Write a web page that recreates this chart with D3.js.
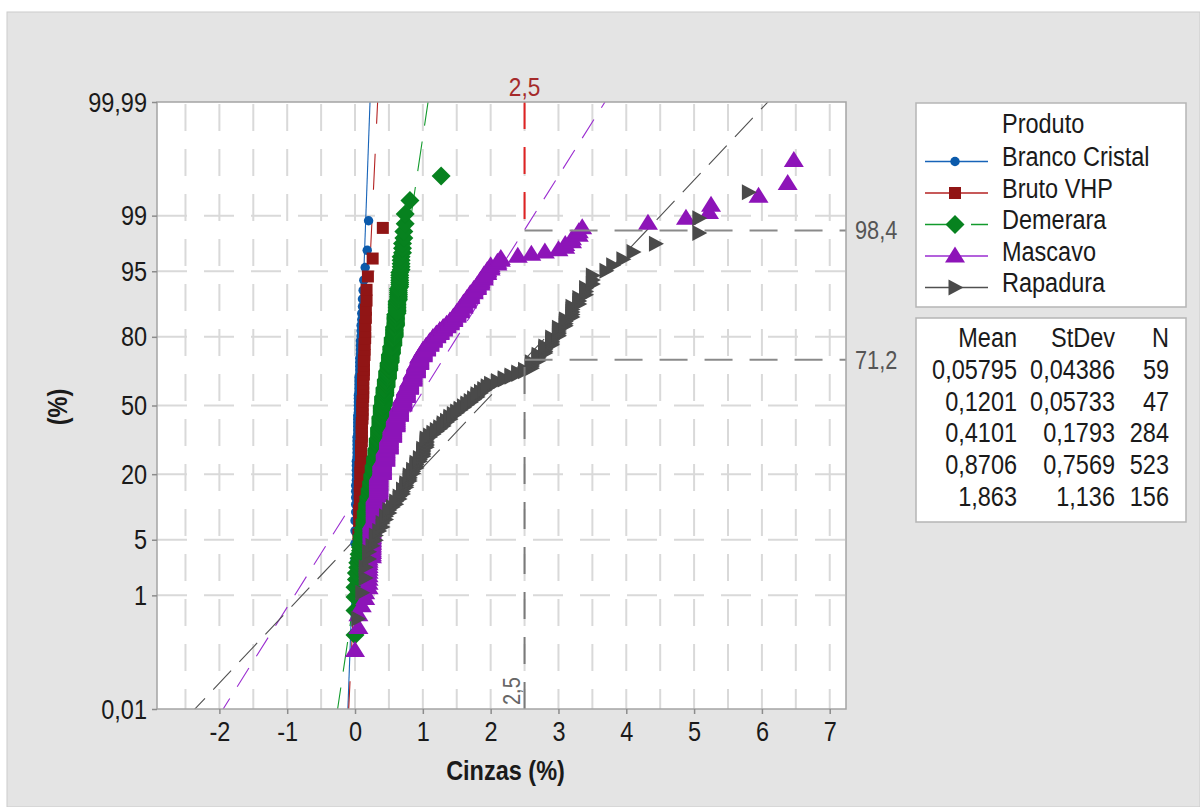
<!DOCTYPE html>
<html>
<head>
<meta charset="utf-8">
<script src="https://cdn.jsdelivr.net/npm/d3@7"></script>
<style>
  body { margin: 0; background: #fff; }
  text { font-family: "Liberation Sans", Arial, sans-serif; }
</style>
</head>
<body>
<div id="chart"></div>
<script>
"use strict";

// tick labels
var percentTicks = [0.01, 1, 5, 20, 50, 80, 95, 99, 99.99];
var percentLabels = ["0,01", "1", "5", "20", "50", "80", "95", "99", "99,99"];
var xTicks = [-2, -1, 0, 1, 2, 3, 4, 5, 6, 7];

// groups and summary table
var produtos = ["Branco Cristal", "Bruto VHP", "Demerara", "Mascavo", "Rapadura"];
var means = [0.05795, 0.1201, 0.4101, 0.8706, 1.863];
var stdevs = [0.04386, 0.05733, 0.1793, 0.7569, 1.136];
var counts = [59, 47, 284, 523, 156];
var meanLabels = ["0,05795", "0,1201", "0,4101", "0,8706", "1,863"];
var stdevLabels = ["0,04386", "0,05733", "0,1793", "0,7569", "1,136"];

// reference lines (Cinzas = 2,5)
var refX = 2.5;
var refPercents = [98.4, 71.2];
var refLabels = ["98,4", "71,2"];

var brancoVal = [0, 0.01, 0.02, 0.03, 0.04, 0.05, 0.06, 0.07, 0.08, 0.09, 0.10, 0.11, 0.12, 0.13, 0.15, 0.18, 0.20];
var brancoCnt = [5, 5, 5, 6, 6, 6, 5, 5, 4, 3, 2, 2, 1, 1, 1, 1, 1];

var brutoVal = [0.03, 0.05, 0.06, 0.07, 0.08, 0.09, 0.10, 0.11, 0.12, 0.13, 0.14, 0.15, 0.16, 0.17, 0.19, 0.26, 0.41];
var brutoCnt = [1, 2, 2, 3, 3, 4, 5, 5, 5, 4, 3, 3, 2, 2, 1, 1, 1];

var demeraraVal = [0.00, 0.02, 0.04, 0.06, 0.08, 0.10, 0.12, 0.14, 0.16, 0.18, 0.20, 0.22, 0.24, 0.26, 0.28,
  0.30, 0.32, 0.34, 0.36, 0.38, 0.40, 0.42, 0.44, 0.46, 0.48, 0.50, 0.52, 0.54, 0.56, 0.58, 0.60, 0.62,
  0.64, 0.66, 0.68, 0.70, 0.72, 0.74, 0.81, 1.27];
var demeraraCnt = [4, 2, 2, 2, 3, 3, 3, 4, 5, 5, 5, 6, 6, 7, 9, 9, 10, 13, 14, 15, 15, 13, 12, 11, 11, 10,
  10, 9, 9, 10, 10, 9, 7, 7, 5, 3, 2, 2, 1, 1];

var mascavoVal = [0.00, 0.05, 0.10, 0.15, 0.20, 0.25, 0.30, 0.35, 0.40, 0.45, 0.50, 0.55, 0.60, 0.65, 0.70,
  0.75, 0.80, 0.85, 0.90, 0.95, 1.00, 1.05, 1.10, 1.15, 1.20, 1.25, 1.30, 1.35, 1.40, 1.45, 1.50, 1.55,
  1.60, 1.65, 1.70, 1.75, 1.80, 1.85, 1.90, 1.95, 2.00, 2.10, 2.15, 2.40, 2.60, 2.80, 3.00, 3.10, 3.20,
  3.30, 3.35, 4.32, 4.88, 5.22, 5.25, 5.95, 6.38, 6.47];
var mascavoCnt = [1, 2, 1, 2, 10, 24, 30, 35, 26, 26, 27, 26, 26, 26, 22, 21, 20, 20, 19, 17, 12, 9, 8, 8,
  6, 6, 5, 5, 5, 6, 6, 6, 6, 5, 5, 4, 4, 4, 4, 3, 3, 2, 2, 1, 1, 1, 1, 2, 2, 2, 1, 1, 1, 1, 1, 1, 1, 1];

var rapaduraVal = [0.04, 0.10, 0.15, 0.20, 0.25, 0.30, 0.35, 0.40, 0.45, 0.50, 0.55, 0.60, 0.65, 0.70, 0.75,
  0.80, 0.85, 0.90, 0.95, 1.00, 1.05, 1.10, 1.15, 1.20, 1.25, 1.30, 1.35, 1.40, 1.45, 1.50, 1.55, 1.60,
  1.65, 1.70, 1.75, 1.80, 1.85, 1.90, 1.95, 2.00, 2.10, 2.20, 2.30, 2.40, 2.50, 2.60, 2.70, 2.80, 2.90,
  3.00, 3.10, 3.20, 3.30, 3.40, 3.50, 3.70, 3.80, 3.95, 4.10, 4.43, 5.07, 5.80];
var rapaduraCnt = [1, 1, 2, 2, 1, 2, 1, 2, 2, 2, 1, 2, 2, 3, 3, 4, 3, 4, 3, 6, 7, 2, 2, 2, 2, 3, 2, 3, 2,
  2, 2, 2, 2, 2, 2, 3, 2, 2, 2, 2, 2, 2, 2, 2, 2, 5, 5, 5, 5, 5, 4, 5, 3, 3, 3, 1, 1, 1, 1, 1, 2, 1];

var seriesVal = [brancoVal, brutoVal, demeraraVal, mascavoVal, rapaduraVal];
var seriesCnt = [brancoCnt, brutoCnt, demeraraCnt, mascavoCnt, rapaduraCnt];

// look
var markColors = ["#0b5aab", "#911515", "#07821f", "#8d14b8", "#4a4a4a"];
var lineColors = ["#1763b8", "#b42222", "#129a2c", "#9a2cd0", "#505050"];
var lineDash = [null, null, "30,16", null, null];
var fitDash = [null, "36,30", "30,16", "22,14", "26,12"];
var SX = 0.87;

// inverse of the standard normal cdf (Acklam)
function qnorm(p) {
  var a = [-3.969683028665376e+01, 2.209460984245205e+02, -2.759285104469687e+02,
           1.383577518672690e+02, -3.066479806614716e+01, 2.506628277459239e+00];
  var b = [-5.447609879822406e+01, 1.615858368580409e+02, -1.556989798598866e+02,
           6.680131188771972e+01, -1.328068155288572e+01];
  var c = [-7.784894002430293e-03, -3.223964580411365e-01, -2.400758277161838e+00,
           -2.549732539343734e+00, 4.374664141464968e+00, 2.938163982698783e+00];
  var d = [7.784695709041462e-03, 3.224671290700398e-01, 2.445134137142996e+00,
           3.754408661907416e+00];
  var q, r;
  if (p < 0.02425) {
    q = Math.sqrt(-2 * Math.log(p));
    return (((((c[0]*q+c[1])*q+c[2])*q+c[3])*q+c[4])*q+c[5]) / ((((d[0]*q+d[1])*q+d[2])*q+d[3])*q+1);
  }
  if (p > 1 - 0.02425) {
    q = Math.sqrt(-2 * Math.log(1 - p));
    return -(((((c[0]*q+c[1])*q+c[2])*q+c[3])*q+c[4])*q+c[5]) / ((((d[0]*q+d[1])*q+d[2])*q+d[3])*q+1);
  }
  q = p - 0.5; r = q * q;
  return (((((a[0]*r+a[1])*r+a[2])*r+a[3])*r+a[4])*r+a[5])*q / (((((b[0]*r+b[1])*r+b[2])*r+b[3])*r+b[4])*r+1);
}

// marker shapes
function shapePath(k) {
  switch (k) {
    case 0: return d3.symbol(d3.symbolCircle, 70)();
    case 1: return "M-6,-6H6V6H-6Z";
    case 2: return "M0,-9.5L9.5,0L0,9.5L-9.5,0Z";
    case 3: return "M0,-9.5L10,6.5L-10,6.5Z";
    default: return "M-6.5,-8L8.5,0L-6.5,8Z";
  }
}

var svg = d3.select("#chart").append("svg")
    .attr("width", 1200)
    .attr("height", 807);

svg.append("rect")
    .attr("x", 7).attr("y", 12).attr("width", 1193).attr("height", 795)
    .attr("fill", "#e4e4e4").attr("stroke", "#cbcbcb");

var pL = 157, pR = 846, pT = 102, pB = 709;

var x = d3.scaleLinear().domain([-2.92, 7.24]).range([pL, pR]);
var y = d3.scaleLinear().domain([qnorm(0.0001), qnorm(0.9999)]).range([pB, pT]);
function yp(pct) { return y(qnorm(pct / 100)); }

function label(g, px, py, s, anchor, size, color, weight, rot) {
  return g.append("text")
      .attr("transform", "translate(" + px + "," + py + ")" + (rot ? " rotate(" + rot + ")" : "") + " scale(" + SX + ",1)")
      .attr("text-anchor", anchor)
      .attr("font-size", size)
      .attr("font-weight", weight || "normal")
      .attr("fill", color || "#1a1a1a")
      .text(s);
}

// plot area
svg.append("rect")
    .attr("x", pL).attr("y", pT).attr("width", pR - pL).attr("height", pB - pT)
    .attr("fill", "#fff");

svg.append("clipPath").attr("id", "plotClip")
  .append("rect")
    .attr("x", pL).attr("y", pT).attr("width", pR - pL).attr("height", pB - pT);

// grid
var grid = svg.append("g").attr("stroke", "#d9d9d9").attr("stroke-width", 2);
d3.range(-2.5, 7.01, 0.5).forEach(function(v) {
  grid.append("line")
      .attr("x1", x(v)).attr("x2", x(v)).attr("y1", pT + 2).attr("y2", pB)
      .attr("stroke-dasharray", "27,18");
});
percentTicks.slice(1, -1).forEach(function(p) {
  grid.append("line")
      .attr("x1", pL).attr("x2", pR).attr("y1", yp(p)).attr("y2", yp(p))
      .attr("stroke-dasharray", "30,17");
});

var plot = svg.append("g").attr("clip-path", "url(#plotClip)");

// fitted normal lines
var zLo = qnorm(0.0001) - 0.1, zHi = qnorm(0.9999) + 0.1;
produtos.forEach(function(name, i) {
  plot.append("line")
      .attr("x1", x(means[i] + stdevs[i] * zLo)).attr("y1", y(zLo))
      .attr("x2", x(means[i] + stdevs[i] * zHi)).attr("y2", y(zHi))
      .attr("stroke", lineColors[i])
      .attr("stroke-width", 1.1)
      .attr("stroke-dasharray", fitDash[i]);
});

// points at median ranks
produtos.forEach(function(name, i) {
  var sorted = [];
  seriesVal[i].forEach(function(v, j) {
    for (var k = 0; k < seriesCnt[i][j]; k++) sorted.push(v);
  });
  var n = sorted.length;
  var pts = sorted.map(function(v, j) {
    return { v: v, z: qnorm((j + 1 - 0.3) / (n + 0.4)) };
  });
  plot.append("g").selectAll("path")
      .data(pts)
    .enter().append("path")
      .attr("d", shapePath(i))
      .attr("transform", function(d) { return "translate(" + x(d.v) + "," + y(d.z) + ")"; })
      .attr("fill", markColors[i]);
});

// reference lines
var ref = svg.append("g").attr("fill", "none");
ref.append("line")
    .attr("x1", x(refX)).attr("x2", x(refX)).attr("y1", pT).attr("y2", yp(refPercents[0]))
    .attr("stroke", "#e02222").attr("stroke-width", 2).attr("stroke-dasharray", "27,18");
ref.append("line")
    .attr("x1", x(refX)).attr("x2", x(refX)).attr("y1", pB).attr("y2", yp(refPercents[1]))
    .attr("stroke", "#7a7a7a").attr("stroke-width", 2).attr("stroke-dasharray", "27,18");
refPercents.forEach(function(p, i) {
  ref.append("line")
      .attr("x1", x(refX)).attr("x2", pR).attr("y1", yp(p)).attr("y2", yp(p))
      .attr("stroke", "#8a8a8a").attr("stroke-width", 2).attr("stroke-dasharray", "28,17");
  label(svg, pR + 9, yp(p) + 9, refLabels[i], "start", 25, "#555");
});
label(svg, x(refX), pT - 6, "2,5", "middle", 26, "#a52a2a");
label(svg, x(refX) - 5, pB - 4, "2,5", "start", 23, "#666", "normal", -90);

// frame
svg.append("rect")
    .attr("x", pL).attr("y", pT).attr("width", pR - pL).attr("height", pB - pT)
    .attr("fill", "none").attr("stroke", "#a4a4a4").attr("stroke-width", 1.5);

// axes
var yAxis = svg.append("g")
    .attr("transform", "translate(" + pL + ",0)")
    .call(d3.axisLeft(y)
      .tickValues(percentTicks.map(function(p) { return qnorm(p / 100); }))
      .tickFormat(function(d, i) { return percentLabels[i]; })
      .tickSize(5));
var xAxis = svg.append("g")
    .attr("transform", "translate(0," + pB + ")")
    .call(d3.axisBottom(x)
      .tickValues(xTicks)
      .tickFormat(function(d) { return String(d); })
      .tickSize(5));
[yAxis, xAxis].forEach(function(ax) {
  ax.select(".domain").remove();
  ax.attr("font-family", null).attr("font-size", null);
  ax.selectAll(".tick line").attr("stroke", "#8c8c8c").attr("stroke-width", 1.5);
  ax.selectAll(".tick text").attr("fill", "#1a1a1a").attr("font-size", 27)
      .attr("x", null).attr("y", null).attr("dy", null);
});
yAxis.selectAll(".tick text").attr("transform", "translate(-10,9) scale(" + SX + ",1)");
xAxis.selectAll(".tick text").attr("transform", "translate(0,32) scale(" + SX + ",1)");

// axis titles
label(svg, (pL + pR) / 2 + 4, 780, "Cinzas (%)", "middle", 27, "#1a1a1a", "bold");
label(svg, 67, 407, "(%)", "middle", 27, "#1a1a1a", "bold", -90);

// legend
var legend = svg.append("g");
legend.append("rect")
    .attr("x", 916).attr("y", 103).attr("width", 270).attr("height", 204)
    .attr("fill", "#fff").attr("stroke", "#b5b5b5").attr("stroke-width", 1.5);
label(legend, 1002, 133, "Produto", "start", 27);
produtos.forEach(function(name, i) {
  var base = 166 + i * 31.5;
  legend.append("line")
      .attr("x1", 925).attr("x2", 988).attr("y1", base - 4.5).attr("y2", base - 4.5)
      .attr("stroke", lineColors[i]).attr("stroke-width", 1.5)
      .attr("stroke-dasharray", lineDash[i]);
  legend.append("path")
      .attr("d", shapePath(i))
      .attr("transform", "translate(955," + (base - 4.5) + ")")
      .attr("fill", markColors[i]);
  label(legend, 1002, base, name, "start", 27);
});

// summary table
var table = svg.append("g");
table.append("rect")
    .attr("x", 916).attr("y", 318).attr("width", 270).attr("height", 204)
    .attr("fill", "#fff").attr("stroke", "#b5b5b5").attr("stroke-width", 1.5);
label(table, 1017, 347, "Mean", "end", 27);
label(table, 1115, 347, "StDev", "end", 27);
label(table, 1169, 347, "N", "end", 27);
produtos.forEach(function(name, i) {
  var base = 379 + i * 31.7;
  label(table, 1017, base, meanLabels[i], "end", 27);
  label(table, 1115, base, stdevLabels[i], "end", 27);
  label(table, 1169, base, String(counts[i]), "end", 27);
});
</script>
</body>
</html>
